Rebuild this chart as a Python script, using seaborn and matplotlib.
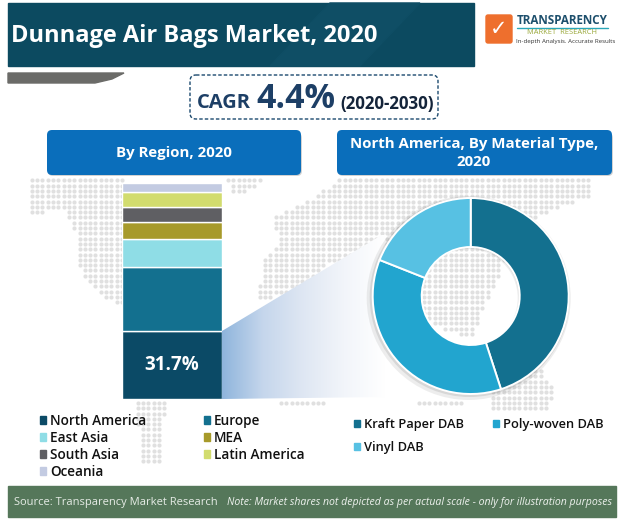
import numpy as np
import matplotlib
matplotlib.use("Agg")
import matplotlib.pyplot as plt
from matplotlib.patches import Rectangle, FancyBboxPatch, Polygon, Wedge, Patch
from matplotlib.path import Path
import seaborn as sns

# ---- data ----
regions = ["North America", "Europe", "East Asia", "MEA", "South Asia", "Latin America", "Oceania"]
region_share = [31.7, 29.5, 13.0, 7.9, 7.0, 6.9, 4.0]
region_colors = ["#0b4a66", "#13708f", "#8fdde6", "#a79a2a", "#5f5f63", "#d2dc6e", "#c3cbe2"]
materials = ["Kraft Paper DAB", "Poly-woven DAB", "Vinyl DAB"]
material_share = [45.0, 36.0, 19.0]
material_colors = ["#13708f", "#22a5cf", "#57c1e3"]

sns.set_theme(style="white")
plt.rcParams["font.family"] = ["Open Sans", "DejaVu Sans"]

W, H = 620, 519
fig = plt.figure(figsize=(W / 100, H / 100), dpi=100, facecolor="white")
bg = fig.add_axes([0, 0, 1, 1], zorder=0)
bg.set_xlim(0, W); bg.set_ylim(H, 0); bg.axis("off")

def axes_px(x0, y0, x1, y1, z=2):
    a = fig.add_axes([x0 / W, 1 - y1 / H, (x1 - x0) / W, (y1 - y0) / H], zorder=z)
    a.patch.set_alpha(0)
    return a

# ---- dotted world map backdrop ----
land = [
    [(27, 190), (33, 176), (122, 176), (122, 303), (112, 302), (92, 288), (76, 262), (74, 225), (62, 208), (30, 217)],
    [(222, 176), (262, 176), (258, 190), (232, 192)],
    [(258, 300), (262, 262), (280, 245), (272, 218), (300, 205), (345, 176), (590, 176), (592, 195), (540, 215), (510, 250), (470, 340), (380, 300), (330, 260), (300, 290)],
    [(270, 398), (340, 398), (320, 406), (285, 406)],
    [(490, 372), (540, 370), (555, 392), (545, 412), (492, 412)],
    [(412, 398), (470, 398), (460, 408), (415, 408)],
    [(136, 400), (166, 400), (160, 462), (140, 462)],
]
gx, gy = np.meshgrid(np.arange(0, W, 5.3), np.arange(175, 465, 5.3))
pts = np.column_stack([gx.ravel(), gy.ravel()])
mask = np.zeros(len(pts), bool)
for poly in land:
    mask |= Path(poly).contains_points(pts)
bg.scatter(pts[mask, 0], pts[mask, 1], s=9, color="#e0e0e0", linewidths=0, zorder=1)

# ---- header ----
bg.add_patch(Rectangle((8, 3), 466, 63, color="#0c4a60", zorder=2))
bg.add_patch(Polygon([(270, 66), (330, 3), (420, 3), (360, 66)], color="#0f4e65", zorder=2))
bg.add_patch(Polygon([(8, 73), (124, 73), (112, 79), (95, 83), (8, 83)], color="#6b6b68", zorder=2))
bg.text(11, 36, "Dunnage Air Bags Market, 2020", color="white", fontsize=17.0, fontweight="bold",
        va="center", ha="left", zorder=3)

# logo
bg.add_patch(FancyBboxPatch((486, 15), 26, 28, boxstyle="round,pad=0,rounding_size=2", color="#ee6f2d", zorder=3))
bg.text(499, 29, "✓", color="white", fontsize=15, ha="center", va="center", family=["DejaVu Sans"], zorder=4)
bg.text(517, 21, "TRANSPARENCY", color="#1d4f6c", fontsize=8.4, fontweight="bold", va="center", zorder=3)
bg.plot([517, 608], [28, 28], color="#2aa7b8", lw=1, zorder=3)
bg.text(562, 33, "MARKET  RESEARCH", color="#9aa83a", fontsize=5.4, ha="center", va="center", zorder=3)
bg.text(516, 41, "In-depth Analysis. Accurate Results", color="#333333", fontsize=4.4, va="center", zorder=3)

# ---- CAGR box ----
bg.add_patch(FancyBboxPatch((190, 75), 248, 44, boxstyle="round,pad=0,rounding_size=6",
                            fc="white", ec="#1c4a6e", lw=1, ls=(0, (2.5, 1.5)), zorder=3))
bg.text(197, 108, "CAGR", color="#1d3f66", fontsize=14.5, fontweight="bold", va="baseline", zorder=4)
bg.text(256, 108, "4.4%", color="#1d3f66", fontsize=24.5, fontweight="bold", va="baseline", zorder=4)
bg.text(340, 109, "(2020-2030)", color="#14243a", fontsize=12.2, fontweight="bold", va="baseline", zorder=4)

# ---- section heads ----
for x0, x1 in [(47, 301), (337, 612)]:
    bg.add_patch(FancyBboxPatch((x0 + 1, 133), x1 - x0, 43, boxstyle="round,pad=0,rounding_size=5",
                                fc="#b5b5b5", ec="none", alpha=0.6, zorder=2))
    bg.add_patch(FancyBboxPatch((x0, 130), x1 - x0, 45, boxstyle="round,pad=0,rounding_size=5",
                                fc="#0a6ebb", ec="none", zorder=3))
bg.text(174, 153, "By Region, 2020", color="white", fontsize=10.8, fontweight="bold",
        ha="center", va="center", zorder=4)
bg.text(474, 153, "North America, By Material Type,\n2020", color="white", fontsize=10.8, fontweight="bold",
        ha="center", va="center", linespacing=1.45, zorder=4)

# ---- gradient wedge from bar to donut ----
grad = np.linspace(0, 1, 256).reshape(1, -1)
cmap = matplotlib.colors.LinearSegmentedColormap.from_list(
    "w", ["#8fb5dc", "#c5d6ec", "#dfe7f3", "#f2f5fa", "#ffffff"])
im = bg.imshow(grad, extent=(222, 385, 399, 235), cmap=cmap, aspect="auto", zorder=1.5)
clip = Polygon([(222, 331), (385, 233), (385, 397), (222, 399)], transform=bg.transData, fc="none", ec="none")
bg.add_patch(clip)
im.set_clip_path(clip)
bg.set_xlim(0, W); bg.set_ylim(H, 0)

# ---- stacked bar ----
bar_ax = axes_px(122, 183, 222, 399)
bottom = 0.0
for name, val, col in zip(regions, region_share, region_colors):
    sns.barplot(x=["Region"], y=[val], bottom=bottom, color=col, width=1.0, saturation=1,
                edgecolor="white", linewidth=1.0, ax=bar_ax)
    bottom += val
bar_ax.set_xlim(-0.5, 0.5); bar_ax.set_ylim(0, sum(region_share))
bar_ax.axis("off")
bar_ax.text(0, region_share[0] / 2, f"{region_share[0]}%", color="white", fontsize=13.5, fontweight="bold",
            ha="center", va="center")

# ---- donut ----
R = 98
pie_ax = axes_px(470.7 - R - 2, 296 - R - 2, 470.7 + R + 2, 296 + R + 2, z=3)
for off, a in [(4, .10), (2, .14)]:
    bg.add_patch(Wedge((470.7 - off / 2, 296 + off / 2), R + off, 0, 360, width=R * 0.5 + off,
                       color="#555555", alpha=a, lw=0, zorder=1.7))
pie_ax.pie(material_share, colors=material_colors, startangle=90, counterclock=False, radius=1.0,
           wedgeprops=dict(width=0.5, edgecolor="white", linewidth=1.4))
pie_ax.set_xlim(-(R + 2) / R, (R + 2) / R); pie_ax.set_ylim(-(R + 2) / R, (R + 2) / R)

# ---- legends ----
order = [0, 2, 4, 6, 1, 3, 5]
h1 = [Patch(color=region_colors[i], label=regions[i]) for i in order]
leg1 = bg.legend(handles=h1, ncol=2, loc="upper left", bbox_to_anchor=(40 / W, 1 - 414 / H),
                 bbox_transform=fig.transFigure, frameon=False, handlelength=0.45, handleheight=0.45,
                 handletextpad=0.3, labelspacing=0.22, columnspacing=4.2, borderpad=0, borderaxespad=0,
                 labelcolor="#111111", prop=dict(family="Open Sans", weight="semibold", size=9.8))
bg.add_artist(leg1)
m_order = [0, 2, 1]
h2 = [Patch(color=material_colors[i], label=materials[i]) for i in m_order]
bg.legend(handles=h2, ncol=2, loc="upper left", bbox_to_anchor=(354 / W, 1 - 418 / H),
          bbox_transform=fig.transFigure, frameon=False, handlelength=0.45, handleheight=0.45,
          handletextpad=0.3, labelspacing=0.75, columnspacing=2.3, borderpad=0, borderaxespad=0,
          labelcolor="#111111", prop=dict(family="Open Sans", weight="semibold", size=9.3))

# ---- footer ----
bg.add_patch(Rectangle((8, 486), 608, 31, color="#55775a", zorder=3))
bg.text(14, 502, "Source: Transparency Market Research", color="#e6ece6", fontsize=8.0, va="center", zorder=4)
bg.text(227, 502, "Note: Market shares not depicted as per actual scale - only for illustration purposes",
        color="#eef2ee", fontsize=7.6, style="italic", va="center", zorder=4)

fig.savefig("out.png", dpi=100)
